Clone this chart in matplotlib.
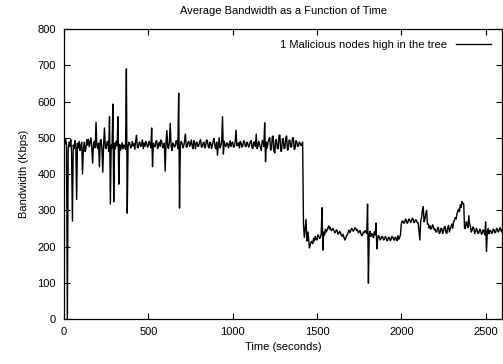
import numpy as np
import matplotlib.pyplot as plt

plt.rcParams['font.family'] = ['Liberation Sans', 'DejaVu Sans']

# Sample times (seconds), one reading every 5 s
time_s = np.arange(0, 2601, 5)

# Average bandwidth (Kbps), 20 values per 100 s
bandwidth = [
    490, 482, 495, 480, 0, 470, 488, 476, 495, 460, 270, 480, 470, 492, 478, 330, 485, 472, 490, 465,        # 0
    478, 488, 400, 470, 488, 462, 470, 495, 480, 496, 475, 488, 500, 470, 430, 485, 490, 472, 543, 478,      # 100
    470, 485, 420, 492, 495, 468, 405, 482, 527, 474, 470, 488, 490, 462, 558, 317, 480, 472, 593, 323,      # 200
    485, 470, 490, 478, 558, 372, 482, 466, 475, 486, 470, 480, 478, 468, 690, 292, 476, 488, 485, 472,      # 300
    475, 490, 478, 484, 468, 492, 507, 474, 472, 486, 488, 476, 480, 494, 470, 486, 476, 490, 485, 474,      # 400
    478, 490, 484, 472, 527, 420, 485, 476, 475, 490, 492, 470, 480, 488, 476, 494, 488, 472, 476, 485,      # 500
    408, 488, 520, 474, 470, 490, 540, 478, 465, 486, 482, 474, 478, 492, 488, 470, 623, 306, 480, 490,      # 600
    485, 472, 478, 490, 510, 474, 475, 488, 490, 476, 482, 494, 478, 470, 492, 484, 470, 488, 486, 476,      # 700
    480, 490, 495, 474, 475, 486, 488, 472, 478, 494, 492, 476, 472, 488, 485, 470, 480, 492, 498, 476,      # 800
    470, 488, 452, 480, 500, 472, 478, 490, 558, 455, 490, 478, 476, 486, 485, 472, 480, 492, 476, 486,      # 900
    488, 474, 475, 490, 521, 478, 480, 486, 472, 490, 486, 474, 478, 492, 490, 476, 476, 488, 484, 474,      # 1000
    480, 490, 492, 472, 470, 488, 488, 476, 510, 470, 476, 490, 482, 474, 465, 492, 492, 476, 541, 434,      # 1100
    488, 472, 488, 496, 500, 466, 468, 502, 505, 462, 458, 494, 495, 470, 470, 506, 508, 464, 462, 496,      # 1200
    498, 470, 472, 500, 505, 466, 468, 494, 492, 474, 476, 500, 500, 468, 470, 492, 490, 476, 478, 488,      # 1300
    485, 478, 482, 488, 260, 225, 250, 275, 215, 240, 225, 196, 205, 212, 215, 208, 222, 215, 228, 220,      # 1400
    218, 232, 230, 222, 225, 235, 307, 190, 240, 232, 248, 240, 245, 252, 257, 248, 252, 244, 245, 250,      # 1500
    245, 238, 240, 246, 243, 234, 236, 242, 238, 230, 228, 234, 225, 218, 222, 230, 232, 240, 245, 238,      # 1600
    243, 250, 248, 242, 245, 252, 250, 244, 246, 238, 240, 244, 236, 230, 232, 240, 238, 244, 240, 236,      # 1700
    317, 99, 235, 242, 228, 236, 232, 224, 240, 232, 265, 193, 222, 230, 226, 218, 222, 228, 226, 218,       # 1800
    220, 228, 225, 216, 218, 226, 224, 216, 220, 228, 226, 218, 218, 226, 222, 216, 230, 220, 225, 232,      # 1900
    262, 270, 270, 264, 266, 276, 272, 264, 268, 276, 274, 266, 270, 278, 276, 266, 268, 274, 272, 266,      # 2000
    265, 240, 218, 270, 280, 300, 310, 268, 275, 290, 300, 262, 262, 250, 258, 248, 250, 260, 255, 246,      # 2100
    248, 240, 240, 252, 252, 236, 238, 250, 250, 236, 242, 254, 255, 238, 236, 252, 258, 240, 248, 256,      # 2200
    262, 250, 268, 272, 280, 276, 290, 298, 303, 296, 315, 308, 324, 318, 318, 250, 250, 268, 262, 252,      # 2300
    285, 262, 255, 240, 245, 254, 250, 236, 240, 250, 246, 236, 238, 248, 244, 234, 236, 246, 242, 232,      # 2400
    268, 186, 240, 250, 235, 244, 244, 236, 238, 248, 246, 238, 240, 250, 248, 240, 244, 252, 246, 240,      # 2500
    250,                                                                                                     # 2600
]

fig = plt.figure(figsize=(5.03, 3.64), dpi=100)
ax = fig.add_axes([0.1272, 0.1236, 0.8718, 0.7967])

ax.plot(time_s, bandwidth, color='black', lw=1.0,
        label='1 Malicious nodes high in the tree')

ax.set_xlim(0, 2600)
ax.set_ylim(0, 800)
ax.set_xticks(range(0, 2501, 500))
ax.set_yticks(range(0, 801, 100))
ax.tick_params(direction='in', length=4, width=0.8, labelsize=8,
               top=True, right=True, pad=6)
for s in ax.spines.values():
    s.set_linewidth(0.9)

ax.set_title('Average Bandwidth as a Function of Time', fontsize=8, pad=11)
ax.set_xlabel('Time (seconds)', fontsize=8, labelpad=3)
ax.set_ylabel('Bandwidth (Kbps)', fontsize=8, labelpad=6)

ax.legend(loc='upper right', frameon=False, fontsize=8, markerfirst=False,
          handlelength=3.2, handletextpad=0.8, borderaxespad=0.6)

plt.savefig('out.png', dpi=100)
